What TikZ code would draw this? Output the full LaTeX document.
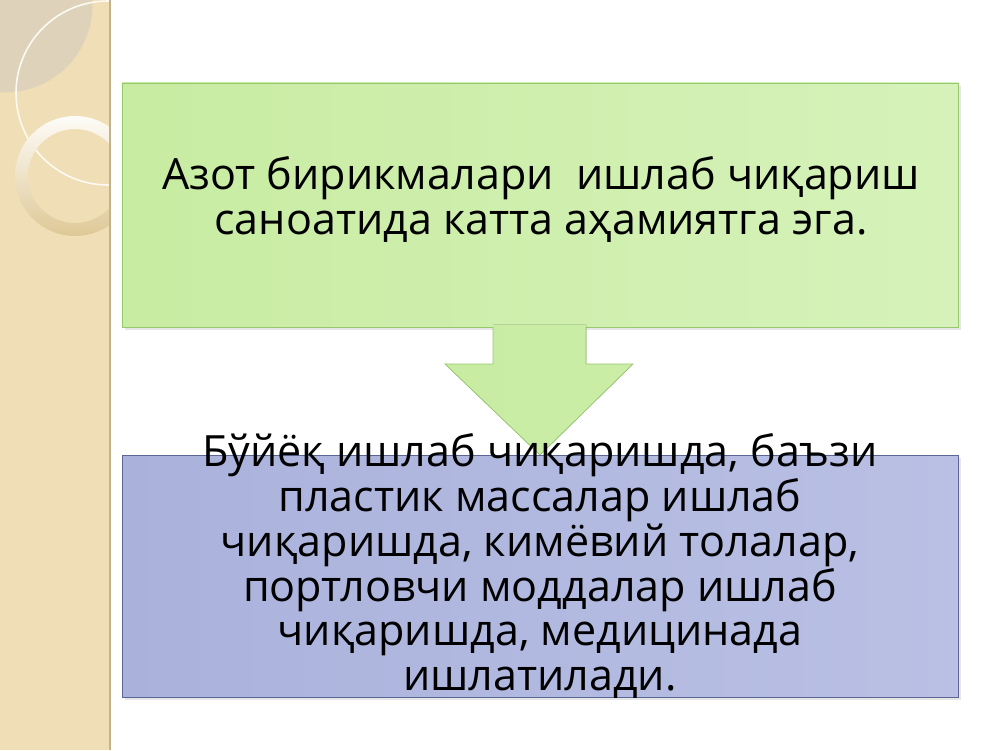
\documentclass[tikz,border=0pt]{standalone}
\usepackage{fontspec}
\setmainfont{Open Sans}
\usetikzlibrary{positioning,shadows}

\definecolor{stripbg}{RGB}{240,223,182}
\definecolor{stripedge}{RGB}{196,178,138}
\definecolor{stripdisc}{RGB}{222,211,186}
\definecolor{ringgold}{RGB}{222,200,150}
\definecolor{greenL}{RGB}{200,236,162}
\definecolor{greenR}{RGB}{214,242,186}
\definecolor{greenline}{RGB}{150,200,110}
\definecolor{blueL}{RGB}{170,178,220}
\definecolor{blueR}{RGB}{186,192,228}
\definecolor{blueline}{RGB}{92,102,150}

\begin{document}
\begin{tikzpicture}[box/.style={draw,minimum width=16.72cm,inner sep=0pt,drop shadow={shadow xshift=1.5pt,shadow yshift=-1.5pt,opacity=.2}},
  greenbox/.style={box,draw=greenline,left color=greenL,right color=greenR,minimum height=4.88cm},
  bluebox/.style={box,draw=blueline,left color=blueL,right color=blueR,minimum height=4.84cm},
  boxtext/.style={align=center,text=black,font=\fontsize{24.5}{25.6}\selectfont}]

    \useasboundingbox (0,0) rectangle (20,15);

    % left strip
    \fill[stripbg] (0,0) rectangle (2.2,15);
    \begin{scope}
        \clip (0,0) rectangle (2.2,15);
        \fill[stripdisc] (0.1,14.9) circle (1.75);
        \draw[white!85!stripbg,line width=0.9pt] (2.16,13.14) circle (1.84);
        \path[top color=white!90!stripbg,bottom color=ringgold,even odd rule]
            (1.5,11.48) circle (1.2) (1.5,11.48) circle (0.94);
    \end{scope}
    \draw[stripedge,line width=1.2pt] (2.2,0) -- (2.2,15);

    \node[greenbox] (green) at (10.8,10.9) {};
    \node[boxtext] (greenText) at (10.82,11.02) {Азот бирикмалари~~ишлаб чиқариш\\саноатида катта аҳамиятга эга.};

    % arrow between the boxes
    \coordinate (tip) at (10.8,5.9);
    \fill[left color=greenL!97!greenR,right color=greenL!80!greenR] (9.86,8.5) -- (9.86,7.72) -- (8.9,7.72) -- (tip) -- (12.66,7.72) -- (11.72,7.72) -- (11.72,8.5) -- cycle;
    \draw[greenline] (9.86,8.46) -- (9.86,7.72) -- (8.9,7.72) -- (tip) -- (12.66,7.72) -- (11.72,7.72) -- (11.72,8.46);

    \node[bluebox] (blue) at (10.8,3.48) {};
    \node[boxtext] (blueText) at (10.8,3.68) {Бўйёқ ишлаб чиқаришда, баъзи\\пластик массалар ишлаб\\чиқаришда, кимёвий толалар,\\портловчи моддалар ишлаб\\чиқаришда, медицинада\\ишлатилади.};

\end{tikzpicture}
\end{document}
